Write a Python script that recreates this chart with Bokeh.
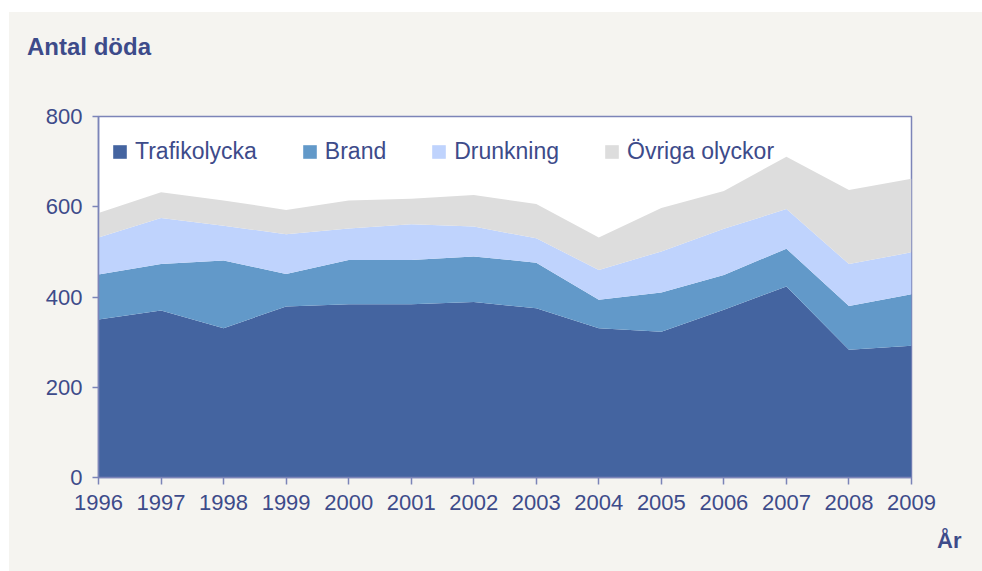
from bokeh.plotting import figure
from bokeh.models import ColumnDataSource, FixedTicker, Range1d, Title, Spacer, Div
from bokeh.layouts import column, row
from bokeh.embed import file_html
from bokeh.resources import INLINE

years = [1996, 1997, 1998, 1999, 2000, 2001, 2002, 2003, 2004, 2005, 2006, 2007, 2008, 2009]
trafikolycka = [350, 370, 331, 379, 384, 384, 389, 375, 331, 323, 372, 423, 283, 292]
brand = [100, 103, 150, 72, 98, 98, 101, 101, 63, 87, 77, 84, 97, 114]
drunkning = [82, 102, 77, 88, 70, 79, 66, 54, 66, 91, 102, 88, 93, 93]
ovriga = [54, 57, 56, 54, 62, 57, 70, 76, 72, 96, 84, 116, 164, 163]

series_names = ["Trafikolycka", "Brand", "Drunkning", "Övriga olyckor"]
series_keys = ["trafik", "brand", "drunk", "ovriga"]
colors = ["#4464a0", "#6299c9", "#bfd3fd", "#dddddd"]
y_ticks = [0, 200, 400, 600, 800]
title_text = "Antal döda"
xlabel_text = "År"

TXT = "#3d4b8a"
LINE = "#7c84b8"
BG = "#f5f4f0"
FONT = "Liberation Sans"

source = ColumnDataSource(dict(year=years, trafik=trafikolycka, brand=brand,
                               drunk=drunkning, ovriga=ovriga))

p = figure(width=973, height=508, output_backend="svg", toolbar_location=None,
           x_range=Range1d(1996, 2009), y_range=Range1d(0, 800),
           min_border_left=89, min_border_right=71, min_border_top=53,
           min_border_bottom=94)
p.background_fill_color = "white"
p.border_fill_color = BG
p.outline_line_color = LINE
p.outline_line_width = 1.5
p.grid.visible = False

p.varea_stack(stackers=series_keys, x="year", color=colors, source=source,
              legend_label=series_names)

for ax in (p.xaxis[0], p.yaxis[0]):
    ax.axis_line_color = LINE
    ax.axis_line_width = 1.5
    ax.major_tick_line_color = LINE
    ax.major_tick_line_width = 1.5
    ax.major_tick_in = 0
    ax.minor_tick_line_color = None
    ax.major_label_text_color = TXT
    ax.major_label_text_font = FONT
    ax.major_label_text_font_size = "22px"

p.xaxis.ticker = FixedTicker(ticks=years)
p.xaxis.major_tick_out = 7
p.xaxis.major_label_standoff = 10
p.yaxis.ticker = FixedTicker(ticks=y_ticks)
p.yaxis.major_tick_out = 6
p.yaxis.major_label_standoff = 10

lg = p.legend[0]
lg.orientation = "horizontal"
lg.location = (13, 312)
lg.margin = 0
lg.padding = 0
lg.spacing = 44
lg.glyph_width = 17
lg.glyph_height = 17
lg.label_standoff = 7
lg.label_height = 20
lg.label_text_font = FONT
lg.label_text_font_size = "23px"
lg.label_text_color = TXT
lg.background_fill_alpha = 0
lg.border_line_alpha = 0

p.add_layout(Title(text=xlabel_text, align="right", offset=-50, text_font=FONT,
                   text_font_style="bold", text_font_size="22px",
                   text_color=TXT, standoff=26), "below")

head = Div(text=('<div style="position:absolute;left:18px;top:21px;'
                 "font-family:'Liberation Sans';font-weight:bold;font-size:24px;"
                 'line-height:28px;color:%s;white-space:nowrap">%s</div>') % (TXT, title_text),
           width=973, height=51,
           styles={"background-color": BG, "margin": "0", "padding": "0"})

inner = column(head, p, spacing=-1, styles={"background-color": BG})

layout = column(Spacer(height=12, width=982),
                row(Spacer(width=9, height=558), inner))

open("out.html", "w").write(file_html(layout, INLINE))
